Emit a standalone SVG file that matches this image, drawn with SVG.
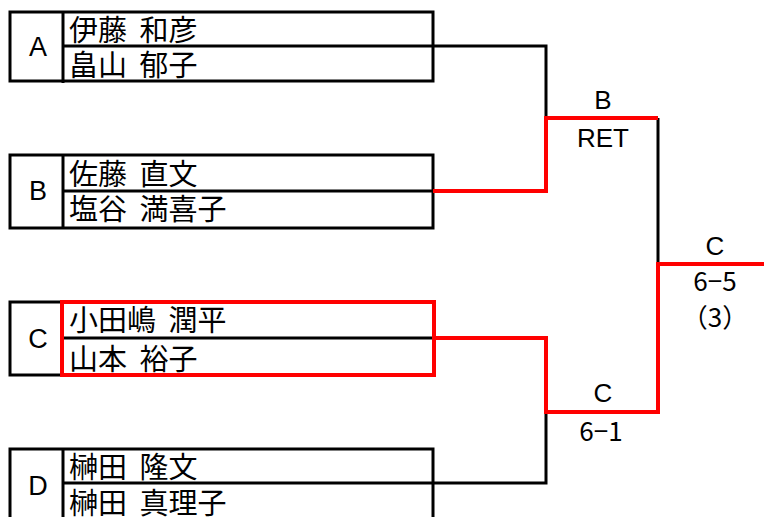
<svg xmlns="http://www.w3.org/2000/svg" width="764" height="517" viewBox="0 0 764 517">
  <style>
    .box { fill: none; stroke: #000; stroke-width: 3; }
    .ln { fill: none; stroke: #000; stroke-width: 3; }
    .win { fill: none; stroke: #ff0000; stroke-width: 4; }
    .seed { font-family: "Liberation Sans", Arial, sans-serif; font-size: 27px; text-anchor: middle; fill: #000; }
    .name { font-family: "Noto Sans CJK JP", sans-serif; font-size: 29px; word-spacing: 6px; fill: #000; }
    .res { font-family: "Liberation Sans", Arial, sans-serif; font-size: 26px; text-anchor: middle; fill: #000; }
    .score { font-family: "Noto Sans CJK JP", sans-serif; font-size: 26px; text-anchor: middle; fill: #000; }
  </style>
  <rect width="764" height="517" fill="#fff"/>

  <g id="team-A">
    <rect class="box" x="10" y="12" width="423" height="69"/>
    <line class="ln" x1="63" y1="12" x2="63" y2="83"/>
    <line class="ln" x1="63" y1="46" x2="433" y2="46"/>
    <text class="seed" x="38" y="56">A</text>
    <text class="name" x="69" y="41">伊藤 和彦</text>
    <text class="name" x="69" y="76">畠山 郁子</text>
  </g>

  <g id="team-B">
    <rect class="box" x="10" y="155" width="423" height="73"/>
    <line class="ln" x1="63" y1="155" x2="63" y2="228"/>
    <line class="ln" x1="63" y1="191" x2="433" y2="191"/>
    <text class="seed" x="38" y="200">B</text>
    <text class="name" x="69" y="185">佐藤 直文</text>
    <text class="name" x="69" y="220">塩谷 満喜子</text>
  </g>

  <g id="team-C">
    <rect class="box" x="10" y="302" width="52" height="73"/>
    <line class="ln" x1="62" y1="338" x2="434" y2="338"/>
    <rect class="win" x="62" y="302" width="372" height="73"/>
    <text class="seed" x="38" y="348">C</text>
    <text class="name" x="69" y="331">小田嶋 潤平</text>
    <text class="name" x="69" y="370">山本 裕子</text>
  </g>

  <g id="team-D">
    <rect class="box" x="10" y="449" width="423" height="80"/>
    <line class="ln" x1="63" y1="449" x2="63" y2="517"/>
    <line class="ln" x1="63" y1="483" x2="433" y2="483"/>
    <text class="seed" x="38" y="495">D</text>
    <text class="name" x="69" y="478">榊田 隆文</text>
    <text class="name" x="69" y="514">榊田 真理子</text>
  </g>

  <g id="connectors">
    <path class="ln" d="M433,46 H546 V118"/>
    <path class="ln" d="M658,118 V264"/>
    <path class="ln" d="M546,412 V483 H433"/>
    <path class="win" d="M433,191 H546 V118 H658"/>
    <path class="win" d="M434,338 H546 V412 H658 V264 H764"/>
  </g>

  <g id="match-AB">
    <text class="res" x="603" y="109">B</text>
    <text class="res" x="603" y="147">RET</text>
  </g>
  <g id="match-CD">
    <text class="res" x="603" y="402">C</text>
    <text class="score" x="601" y="441">6−1</text>
  </g>
  <g id="final">
    <text class="res" x="715" y="255">C</text>
    <text class="score" x="715" y="291">6−5</text>
    <text class="score" x="715" y="327">（3）</text>
  </g>
</svg>
